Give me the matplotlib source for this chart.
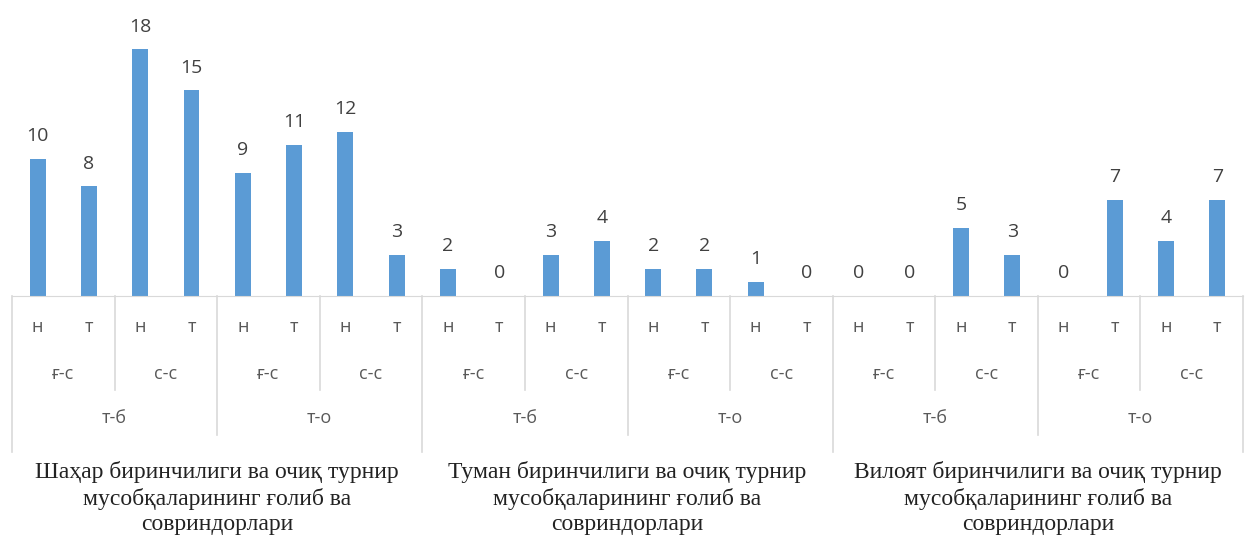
import matplotlib.pyplot as plt

values = [10, 8, 18, 15, 9, 11, 12, 3,
          2, 0, 3, 4, 2, 2, 1, 0,
          0, 0, 5, 3, 0, 7, 4, 7]
lvl1 = ['н', 'т'] * 12
lvl2 = ['ғ-с', 'с-с'] * 6
lvl3 = ['т-б', 'т-о'] * 3
groups = ['Шаҳар биринчилиги ва очиқ турнир\nмусобқаларининг ғолиб ва\nсовриндорлари',
          'Туман биринчилиги ва очиқ турнир\nмусобқаларининг ғолиб ва\nсовриндорлари',
          'Вилоят биринчилиги ва очиқ турнир\nмусобқаларининг ғолиб ва\nсовриндорлари']

plt.rcParams['font.family'] = ['Open Sans', 'DejaVu Sans']

W, H = 1247, 542
fig = plt.figure(figsize=(W / 100, H / 100), dpi=100)
# axes: pixel x 12..1243, y 22..296
ax = fig.add_axes([12 / W, 1 - 296 / H, 1231 / W, 274 / H])
axh = 274.0

x = list(range(len(values)))
ax.bar(x, values, width=0.31, color='#5B9BD5')
ax.set_xlim(-0.5, len(values) - 0.5)
ax.set_ylim(0, 20)
for s in ['top', 'right', 'left']:
    ax.spines[s].set_visible(False)
ax.spines['bottom'].set_color('#d9d9d9')
ax.set_yticks([])
ax.set_xticks([])

for xi, v in zip(x, values):
    ax.annotate(str(v), (xi, v), xytext=(0, 10), textcoords='offset points',
                ha='center', va='bottom', fontsize=14, color='#404040')

tr = ax.get_xaxis_transform()


def fy(px):
    # pixel y in figure -> axes fraction
    return (296 - px) / axh


grey = '#595959'
for i, t in enumerate(lvl1):
    ax.text(i, fy(327), t, transform=tr, ha='center', va='center',
            fontsize=13, color=grey)
for i, t in enumerate(lvl2):
    ax.text(2 * i + 0.5, fy(374), t, transform=tr, ha='center', va='center',
            fontsize=13, color=grey)
for i, t in enumerate(lvl3):
    ax.text(4 * i + 1.5, fy(418), t, transform=tr, ha='center', va='center',
            fontsize=13, color=grey)
for i, t in enumerate(groups):
    ax.text(8 * i + 3.5, fy(498), t, transform=tr, ha='center', va='center',
            fontsize=17, color='#222222', family='Liberation Serif',
            linespacing=1.3)

for k in range(13):
    xs = 2 * k - 0.5
    if k % 4 == 0:
        bot = 452
    elif k % 2 == 0:
        bot = 435
    else:
        bot = 390
    ax.plot([xs, xs], [0, fy(bot)], transform=tr, color='#d9d9d9',
            lw=1.2, clip_on=False)

fig.savefig('out.png', dpi=100)
